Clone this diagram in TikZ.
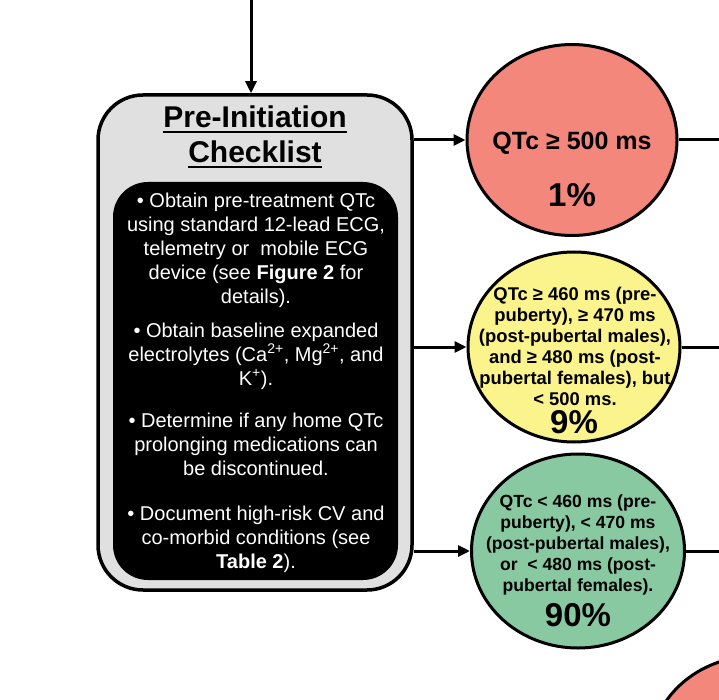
\documentclass[tikz,border=0pt]{standalone}
\usepackage{fontspec}
\setmainfont{Liberation Sans}
\usetikzlibrary{shapes.geometric,arrows.meta}
\definecolor{redfill}{HTML}{F4877B}
\definecolor{yelfill}{HTML}{FBF38C}
\definecolor{grnfill}{HTML}{88C9A2}
\definecolor{grayfill}{HTML}{E0E0E0}
\tikzset{
  circ/.style={ellipse, draw=black, line width=3pt, inner sep=0pt, minimum width=212pt, minimum height=192pt},
  arr/.style={line width=3pt, -{Triangle[length=12pt,width=11pt]}},
  conn/.style={line width=3pt},
  outerbox/.style={draw=black, fill=grayfill, line width=3.5pt, rounded corners=45pt, minimum width=314pt, minimum height=495pt, inner sep=0pt},
  innerbox/.style={fill=black, rounded corners=35pt, minimum width=285pt, minimum height=398pt, inner sep=0pt},
  ttl/.style={font=\fontsize{30}{35}\selectfont\bfseries, inner sep=0pt, anchor=base},
  bltxt/.style={text=white, align=center, inner sep=0pt, font=\fontsize{20}{24}\selectfont},
  ctxt/.style={align=center, inner sep=0pt, font=\bfseries\fontsize{18.4}{21}\selectfont},
  pct/.style={inner sep=0pt, font=\bfseries\fontsize{33}{36}\selectfont}
}
\begin{document}
\begin{tikzpicture}[x=1pt,y=-1pt]
\useasboundingbox (0,0) rectangle (719,700);
\clip (0,0) rectangle (719,700);
\coordinate (topin) at (251,0);
\coordinate (rgt) at (722,0);
% checklist
\node[outerbox] (gray) at (255,342.5) {};
\node[innerbox] (blk) at (255.5,381) {};
\node[ttl] (title1) at (255,128) {Pre-Initiation};
\node[ttl] (title2) at (255,163) {Checklist};
\draw[line width=2.4pt] ([yshift=-4pt]title1.base west) -- ([yshift=-4pt]title1.base east);
\draw[line width=2.4pt] ([yshift=-4pt]title2.base west) -- ([yshift=-4pt]title2.base east);
\node[bltxt] (p1) at (256,250) {• Obtain pre-treatment QTc\\using standard 12-lead ECG,\\telemetry or\ \ mobile ECG\\device (see \textbf{Figure 2} for\\details).};
\node[bltxt] (p2) at (256,356) {• Obtain baseline expanded\\electrolytes (Ca\textsuperscript{2+}, Mg\textsuperscript{2+}, and\\K\textsuperscript{+}).};
\node[bltxt] (p3) at (256,444) {• Determine if any home QTc\\prolonging medications can\\be discontinued.};
\node[bltxt] (p4) at (256,539) {• Document high-risk CV and\\co-morbid conditions (see\\\textbf{Table 2}).};
% circles
\node[circ, fill=redfill, minimum width=210pt, minimum height=191pt] (red) at (572,140) {};
\node[circ, fill=yelfill, minimum height=190pt] (yel) at (574,347) {};
\node[circ, fill=grnfill, minimum width=213pt, minimum height=194pt] (grn) at (578,551) {};
\node[circ, fill=redfill] (red2) at (756,752) {};
\node[inner sep=0pt, font=\bfseries\fontsize{25}{28}\selectfont] (redt) at (572,143) {QTc ≥ 500 ms};
\node[pct] (redp) at (572,195) {1\%};
\node[ctxt] (yelt) at (575,346) {QTc ≥ 460 ms (pre-\\puberty), ≥ 470 ms\\(post-pubertal males),\\and ≥ 480 ms (post-\\pubertal females), but\\< 500 ms.};
\node[pct] (yelp) at (574,422) {9\%};
\node[ctxt, font=\bfseries\fontsize{17.6}{21.2}\selectfont] (grnt) at (578,545) {QTc < 460 ms (pre-\\puberty), < 470 ms\\(post-pubertal males),\\or\ \ < 480 ms (post-\\pubertal females).};
\node[pct] (grnp) at (578,615) {90\%};
% connectors
\draw[arr] (topin) -- (gray.north -| topin);
\draw[arr] (red.west -| gray.east) -- (red.west);
\draw[arr] (yel.west -| gray.east) -- (yel.west);
\draw[arr] (grn.west -| gray.east) -- (grn.west);
\draw[conn] (red.east) -- (red.east -| rgt);
\draw[conn] (yel.east) -- (yel.east -| rgt);
\draw[conn] (grn.east) -- (grn.east -| rgt);
\end{tikzpicture}
\end{document}
